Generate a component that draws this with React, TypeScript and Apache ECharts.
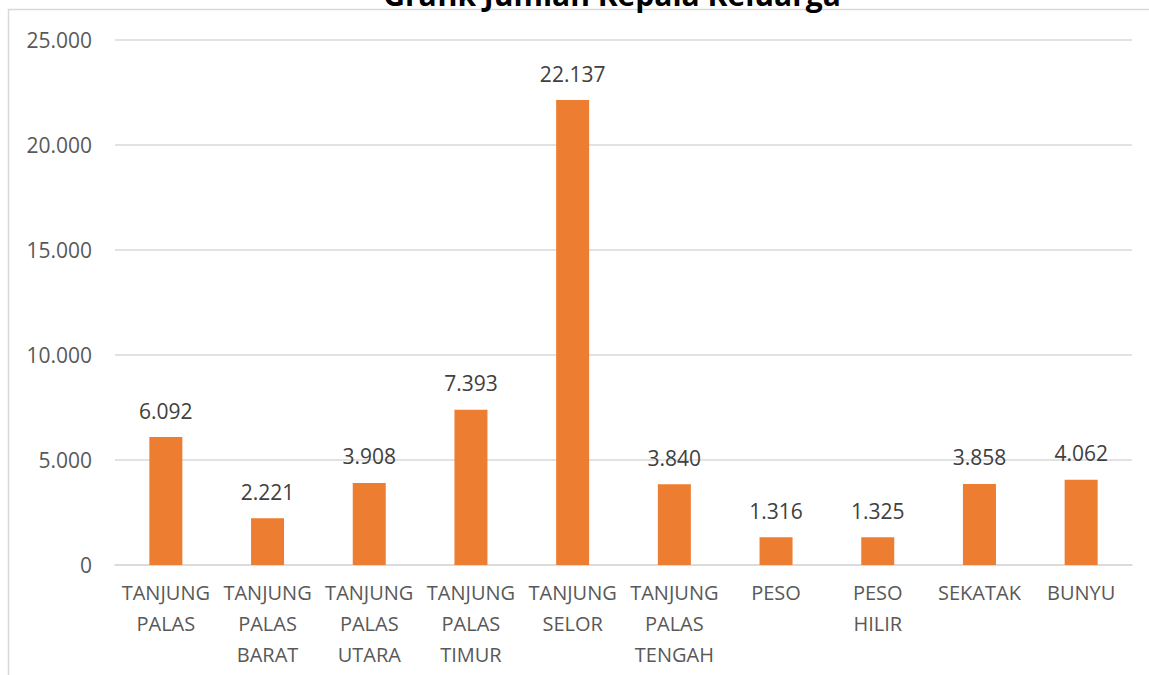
import React, { useEffect, useRef } from "react";
import * as echarts from "echarts";

const categories = [
  "TANJUNG\nPALAS",
  "TANJUNG\nPALAS\nBARAT",
  "TANJUNG\nPALAS\nUTARA",
  "TANJUNG\nPALAS\nTIMUR",
  "TANJUNG\nSELOR",
  "TANJUNG\nPALAS\nTENGAH",
  "PESO",
  "PESO\nHILIR",
  "SEKATAK",
  "BUNYU",
];
const values = [6092, 2221, 3908, 7393, 22137, 3840, 1316, 1325, 3858, 4062];
const titleText = "Grafik Jumlah Kepala Keluarga";

const fmt = (v: number) => String(v).replace(/\B(?=(\d{3})+(?!\d))/g, ".");

export default function App() {
  const ref = useRef<HTMLDivElement>(null);
  useEffect(() => {
    document.body.style.margin = "0";
    const chart = echarts.init(ref.current!, null, { renderer: "svg" });
    const font = "'Open Sans', sans-serif";
    chart.setOption({
      animation: false,
      backgroundColor: "#ffffff",
      grid: { left: 115, right: 17, top: 40, bottom: 110 },
      xAxis: {
        type: "category",
        data: categories,
        axisLine: { show: true, lineStyle: { color: "#D9D9D9", width: 1.5 } },
        axisTick: { show: false },
        axisLabel: {
          color: "#595959",
          fontFamily: font,
          fontSize: 20,
          lineHeight: 31,
          margin: 12,
          interval: 0,
        },
      },
      yAxis: {
        type: "value",
        min: 0,
        max: 25000,
        interval: 5000,
        axisLine: { show: false },
        axisTick: { show: false },
        splitLine: { lineStyle: { color: "#D9D9D9", width: 1.5 } },
        axisLabel: {
          color: "#595959",
          fontFamily: font,
          fontSize: 21,
          margin: 23,
          formatter: (v: number) => fmt(v),
        },
      },
      series: [
        {
          type: "bar",
          data: values,
          barWidth: 33,
          itemStyle: { color: "#ED7D31" },
          label: {
            show: true,
            position: "top",
            distance: 16,
            color: "#404040",
            fontFamily: font,
            fontSize: 21,
            formatter: (p: any) => fmt(p.value),
          },
        },
      ],
      graphic: [
        {
          type: "rect",
          shape: { x: 8.5, y: 9.5, width: 1300, height: 800 },
          style: { fill: "none", stroke: "#D9D9D9", lineWidth: 1.5 },
          silent: true,
        },
        {
          type: "text",
          x: 612,
          y: 9,
          style: {
            text: titleText,
            fill: "#000000",
            font: `bold 30px ${font}`,
            align: "center",
            verticalAlign: "bottom",
          },
        },
      ],
    });
    return () => chart.dispose();
  }, []);
  return <div ref={ref} style={{ width: 1149, height: 675 }} />;
}
